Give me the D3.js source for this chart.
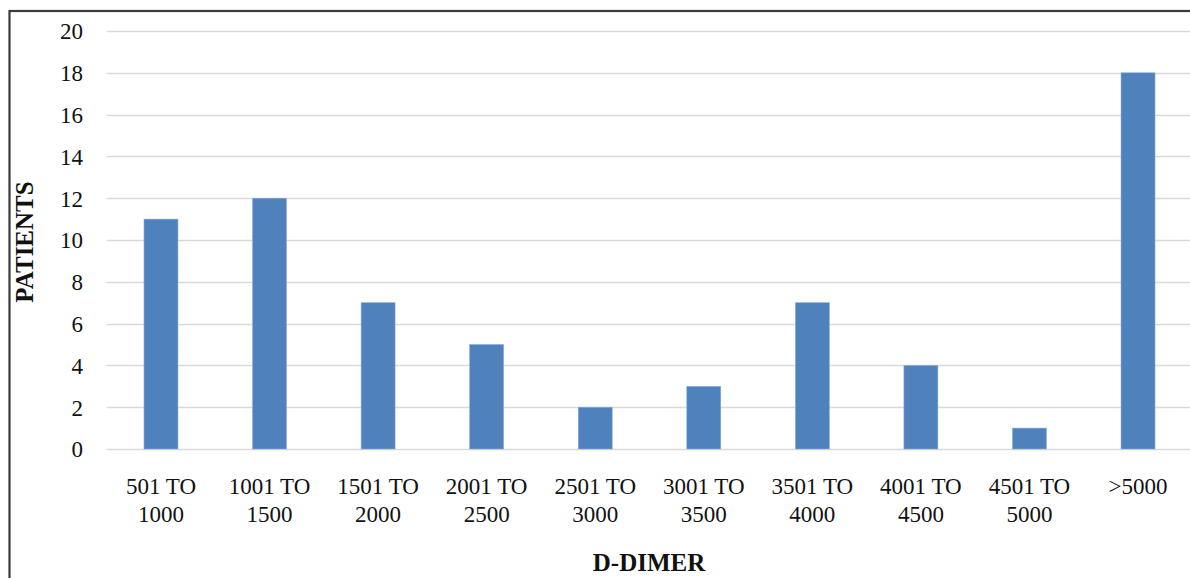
<!DOCTYPE html>
<html>
<head>
<meta charset="utf-8">
<script src="https://cdn.jsdelivr.net/npm/d3@7"></script>
<style>
  html, body { margin: 0; padding: 0; background: #fff; }
  svg { display: block; }
  text { font-family: "Liberation Serif", "Times New Roman", serif; fill: #111; }
</style>
</head>
<body>
<svg id="chart" width="1190" height="578"></svg>
<script>
const categories = [
  ["501 TO", "1000"], ["1001 TO", "1500"], ["1501 TO", "2000"], ["2001 TO", "2500"],
  ["2501 TO", "3000"], ["3001 TO", "3500"], ["3501 TO", "4000"], ["4001 TO", "4500"],
  ["4501 TO", "5000"], [">5000"]
];
const patients = [11, 12, 7, 5, 2, 3, 7, 4, 1, 18];
const yTicks = [0, 2, 4, 6, 8, 10, 12, 14, 16, 18, 20];
const xTitle = "D-DIMER";
const yTitle = "PATIENTS";

const svg = d3.select("#chart");

// outer border
svg.append("rect")
  .attr("x", 9.5).attr("y", 11).attr("width", 1250).attr("height", 700)
  .attr("fill", "none").attr("stroke", "#3a3a3a").attr("stroke-width", 2.2);

const plotLeft = 106.7, plotRight = 1192.3, plotTop = 31, plotBottom = 449;

const x = d3.scaleBand()
  .domain(d3.range(categories.length))
  .range([plotLeft, plotRight])
  .paddingInner(0.687)
  .paddingOuter(0.3435);

const y = d3.scaleLinear().domain([0, 20]).range([plotBottom, plotTop]);

// gridlines
svg.append("g").selectAll("line")
  .data(yTicks).join("line")
  .attr("x1", plotLeft).attr("x2", plotRight)
  .attr("y1", d => Math.round(y(d)) + 0.5).attr("y2", d => Math.round(y(d)) + 0.5)
  .attr("stroke", "#d9d9d9").attr("stroke-width", 1.6);

// y tick labels via axis
const yAxis = d3.axisLeft(y).tickValues(yTicks).tickSize(0).tickPadding(0);
const gy = svg.append("g").attr("transform", "translate(83,0)").call(yAxis);
gy.select(".domain").remove();
gy.selectAll("text")
  .style("font-family", '"Liberation Serif", serif')
  .style("font-size", "23px")
  .attr("fill", "#111")
  .attr("dy", "0.34em");

// bars
svg.append("g").selectAll("rect")
  .data(patients).join("rect")
  .attr("x", (d, i) => x(i))
  .attr("width", x.bandwidth())
  .attr("y", d => y(d))
  .attr("height", d => y(0) - y(d))
  .attr("fill", "#4f81bd")
  .attr("stroke", "#8eaedb")
  .attr("stroke-width", 0.6);

// x category labels
const xl = svg.append("g").selectAll("text")
  .data(categories).join("text")
  .attr("x", (d, i) => x(i) + x.bandwidth() / 2)
  .attr("y", 494)
  .attr("text-anchor", "middle")
  .style("font-size", "23px");
xl.each(function(d) {
  const t = d3.select(this);
  const cx = t.attr("x");
  d.forEach((line, j) => {
    t.append("tspan").attr("x", cx).attr("dy", j === 0 ? 0 : 28).text(line);
  });
});

// axis titles
svg.append("text")
  .attr("x", 649).attr("y", 571)
  .attr("text-anchor", "middle")
  .style("font-size", "25px").style("font-weight", "bold")
  .text(xTitle);

svg.append("text")
  .attr("transform", "translate(33,242) rotate(-90)")
  .attr("text-anchor", "middle")
  .style("font-size", "25px").style("font-weight", "bold")
  .text(yTitle);
</script>
</body>
</html>
